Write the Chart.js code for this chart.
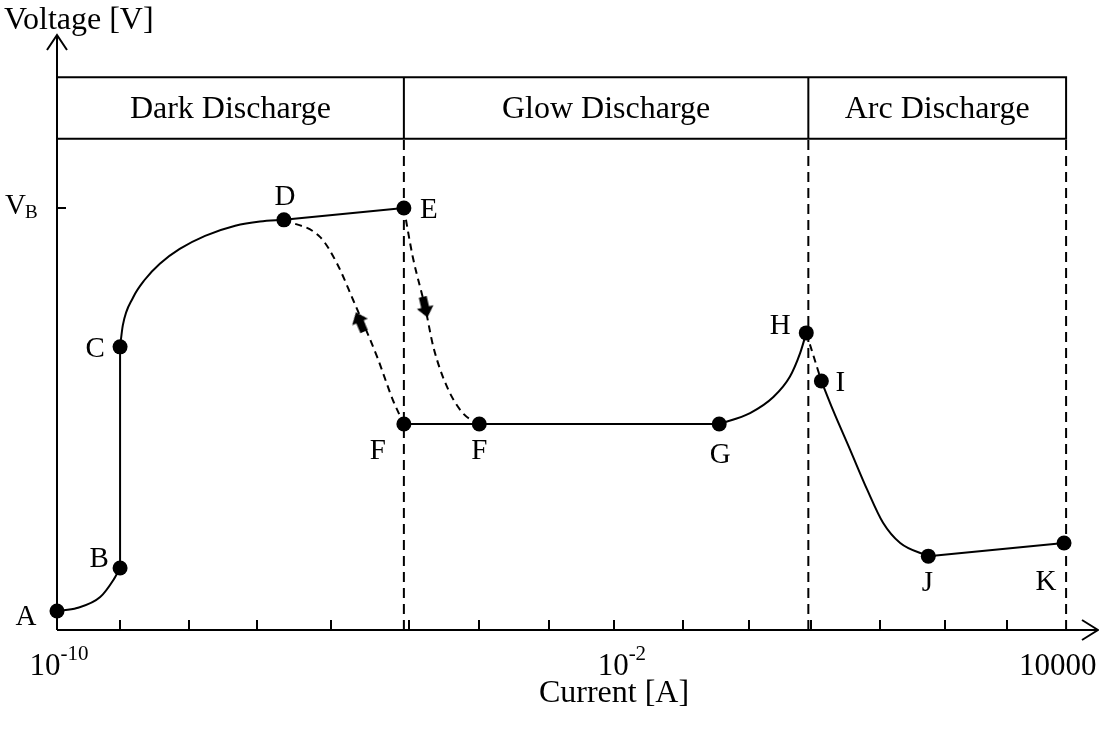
<!DOCTYPE html>
<html>
<head>
<meta charset="utf-8">
<script src="https://cdn.jsdelivr.net/npm/chart.js@4.4.0/dist/chart.umd.min.js"></script>
<style>
  html, body { margin: 0; padding: 0; background: #fff; overflow: hidden; }
  #wrap { width: 1099px; height: 735px; position: relative; }
</style>
</head>
<body>
<div id="wrap"><canvas id="chart"></canvas></div>
<script>
// Horizontal axis: schematic current position, one unit per decade step (0 = 10^-10 A)
const xTicks = [0.92, 1.93, 2.92, 4.00, 5.13, 6.16, 7.18, 8.13, 9.13, 10.09, 11.00, 12.01, 12.95, 13.86];
const xTickLabelAt = [0.03, 8.24, 14.60];
const xTickLabelBase = ['10', '10', '10000'];
const xTickLabelExp = ['-10', '-2', ''];

// Vertical axis: voltage relative to breakdown voltage V_B
const vBreakdown = 1.0;

// Discharge regimes
const regionEdges = [0, 5.06, 10.96, 14.72];
const regionNames = ['Dark Discharge', 'Glow Discharge', 'Arc Discharge'];
const regionBand = [1.164, 1.310];

// Labelled operating points
const pointNames = ['A', 'B', 'C', 'D', 'E', 'F', 'F', 'G', 'H', 'I', 'J', 'K'];
const pointX = [0, 0.92, 0.92, 3.31, 5.06, 5.06, 6.16, 9.66, 10.93, 11.15, 12.71, 14.69];
const pointV = [0.045, 0.147, 0.671, 0.972, 1.0, 0.488, 0.488, 0.488, 0.704, 0.590, 0.175, 0.206];

// Characteristic curve pieces [x, V/V_B]
const curveAB = [[0, 0.045], [0.29, 0.052], [0.63, 0.078], [0.82, 0.118], [0.92, 0.147]];
const curveBC = [[0.92, 0.147], [0.92, 0.671]];
const curveCD = [[0.92, 0.671], [0.96, 0.722], [1.11, 0.788], [1.28, 0.830], [1.50, 0.868], [1.79, 0.903], [2.16, 0.934], [2.60, 0.958], [2.96, 0.968], [3.31, 0.972]];
const curveDE = [[3.31, 0.972], [5.06, 1.0]];
const curveDF = [[3.31, 0.972], [3.84, 0.931], [4.08, 0.870], [4.32, 0.782], [4.67, 0.647], [4.90, 0.545], [5.06, 0.488]];
const curveEF = [[5.06, 1.0], [5.19, 0.884], [5.37, 0.765], [5.49, 0.671], [5.69, 0.576], [5.92, 0.514], [6.16, 0.488]];
const curveFG = [[5.06, 0.488], [6.16, 0.488], [9.66, 0.488]];
const curveGH = [[9.66, 0.488], [10.11, 0.514], [10.45, 0.552], [10.69, 0.600], [10.84, 0.656], [10.93, 0.704]];
const curveHI = [[10.93, 0.704], [11.15, 0.590]];
const curveIJ = [[11.15, 0.590], [11.32, 0.521], [11.57, 0.427], [11.82, 0.332], [12.05, 0.254], [12.30, 0.206], [12.71, 0.175]];
const curveJK = [[12.71, 0.175], [14.69, 0.206]];

// Direction arrows on the hysteresis branches
const arrowX = [4.42, 5.37];
const arrowV = [0.730, 0.765];
const arrowAngle = [-23, 167];

const SERIF = '"Liberation Serif", "Times New Roman", serif';
const INK = '#000';

const toXY = pts => pts.map(([x, y]) => ({ x, y }));

// Solid block arrow pointing up; rotated per point by Chart.js
function blockArrow() {
  const c = document.createElement('canvas');
  c.width = 17; c.height = 21;
  const g = c.getContext('2d');
  g.fillStyle = INK;
  g.beginPath();
  g.moveTo(8.5, 0); g.lineTo(17, 10.5); g.lineTo(12.5, 10.5); g.lineTo(12.5, 21);
  g.lineTo(4.5, 21); g.lineTo(4.5, 10.5); g.lineTo(0, 10.5); g.closePath();
  g.fill();
  return c;
}

function piece(pts, dashed, smooth) {
  return {
    type: 'line',
    data: toXY(pts),
    borderColor: INK,
    borderWidth: 2,
    borderDash: dashed ? [7, 5] : [],
    pointRadius: 0,
    fill: false,
    clip: false,
    tension: 0,
    cubicInterpolationMode: smooth ? 'monotone' : 'default',
    order: 2
  };
}

function boundary(xv) {
  return {
    type: 'line',
    data: [{ x: xv, y: 0 }, { x: xv, y: regionBand[0] }],
    borderColor: INK,
    borderWidth: 2,
    borderDash: [10, 6],
    pointRadius: 0,
    fill: false,
    clip: false,
    tension: 0,
    order: 3
  };
}

// Label offsets (pixels) for each operating point name
const labelOffset = [[-31, 14], [-21, -1], [-25, 10], [1, -15], [25, 10], [-26, 35], [0, 35], [1, 39], [-26, 1], [19, 10], [-1, 35], [-18, 47]];

const decor = {
  id: 'decor',
  beforeDatasetsDraw(chart) {
    const { ctx, scales: { x, y } } = chart;
    const ox = x.getPixelForValue(0), oy = y.getPixelForValue(0);
    const xEnd = x.right, yEnd = y.top;
    ctx.save();
    ctx.strokeStyle = INK;
    ctx.fillStyle = INK;
    ctx.lineWidth = 2;
    ctx.setLineDash([]);

    // header band with regime names
    const yt = y.getPixelForValue(regionBand[1]);
    const yb = y.getPixelForValue(regionBand[0]);
    const xr = x.getPixelForValue(regionEdges[regionEdges.length - 1]);
    ctx.beginPath();
    ctx.moveTo(ox, yt); ctx.lineTo(xr, yt); ctx.lineTo(xr, yb); ctx.lineTo(ox, yb);
    for (let i = 1; i < regionEdges.length - 1; i++) {
      const px = x.getPixelForValue(regionEdges[i]);
      ctx.moveTo(px, yt); ctx.lineTo(px, yb);
    }
    ctx.stroke();
    ctx.font = '32px ' + SERIF;
    ctx.textAlign = 'center';
    ctx.textBaseline = 'alphabetic';
    regionNames.forEach((name, i) => {
      const cx = (x.getPixelForValue(regionEdges[i]) + x.getPixelForValue(regionEdges[i + 1])) / 2;
      ctx.fillText(name, cx, (yt + yb) / 2 + 10);
    });

    // axes with open arrowheads
    ctx.beginPath();
    ctx.moveTo(ox, oy); ctx.lineTo(ox, yEnd);
    ctx.moveTo(ox - 10, yEnd + 15); ctx.lineTo(ox, yEnd); ctx.lineTo(ox + 10, yEnd + 15);
    ctx.moveTo(ox, oy); ctx.lineTo(xEnd - 1, oy);
    ctx.moveTo(xEnd - 17, oy - 10); ctx.lineTo(xEnd - 1, oy); ctx.lineTo(xEnd - 17, oy + 10);
    ctx.stroke();

    // inward tick marks on the current axis
    ctx.beginPath();
    xTicks.forEach(t => {
      const px = Math.round(x.getPixelForValue(t));
      ctx.moveTo(px, oy); ctx.lineTo(px, oy - 10);
    });
    // breakdown voltage tick
    const vb = y.getPixelForValue(vBreakdown);
    ctx.moveTo(ox, vb); ctx.lineTo(ox + 9, vb);
    ctx.stroke();

    // tick labels with superscript exponents
    ctx.textAlign = 'left';
    xTickLabelAt.forEach((v, i) => {
      const base = xTickLabelBase[i], exp = xTickLabelExp[i];
      ctx.font = '31px ' + SERIF;
      const wb = ctx.measureText(base).width;
      ctx.font = '21px ' + SERIF;
      const we = exp ? ctx.measureText(exp).width : 0;
      const start = x.getPixelForValue(v) - (wb + we) / 2;
      ctx.font = '31px ' + SERIF;
      ctx.fillText(base, start, oy + 45);
      if (exp) {
        ctx.font = '21px ' + SERIF;
        ctx.fillText(exp, start + wb, oy + 30);
      }
    });

    // V_B label
    ctx.font = '29px ' + SERIF;
    ctx.fillText('V', 5, vb + 6);
    const wv = ctx.measureText('V').width;
    ctx.font = '19px ' + SERIF;
    ctx.fillText('B', 5 + wv - 1, vb + 10);

    // axis titles
    ctx.font = '32px ' + SERIF;
    ctx.textAlign = 'left';
    ctx.fillText('Voltage [V]', 4, 29);
    ctx.textAlign = 'center';
    ctx.fillText('Current [A]', (ox + xEnd) / 2 + 36, oy + 72);
    ctx.restore();
  },
  afterDatasetsDraw(chart) {
    const { ctx, scales: { x, y } } = chart;
    ctx.save();
    ctx.fillStyle = INK;
    ctx.font = '29px ' + SERIF;
    ctx.textAlign = 'center';
    ctx.textBaseline = 'alphabetic';
    pointNames.forEach((name, i) => {
      const px = x.getPixelForValue(pointX[i]);
      const py = y.getPixelForValue(pointV[i]);
      ctx.fillText(name, px + labelOffset[i][0], py + labelOffset[i][1]);
    });
    ctx.restore();
  }
};

const arrowImage = blockArrow();

const datasets = [
  {
    type: 'line',
    data: pointX.map((xv, i) => ({ x: xv, y: pointV[i] })),
    showLine: false,
    pointRadius: 7.5,
    pointHoverRadius: 7.5,
    pointBackgroundColor: INK,
    pointBorderWidth: 0,
    clip: false,
    order: 0
  },
  {
    type: 'line',
    data: arrowX.map((xv, i) => ({ x: xv, y: arrowV[i] })),
    showLine: false,
    pointStyle: arrowImage,
    pointRadius: 10,
    pointRotation: arrowAngle,
    clip: false,
    order: 0
  },
  piece(curveAB, false, true),
  piece(curveBC, false, false),
  piece(curveCD, false, true),
  piece(curveDE, false, false),
  piece(curveDF, true, true),
  piece(curveEF, true, true),
  piece(curveFG, false, false),
  piece(curveGH, false, true),
  piece(curveHI, true, false),
  piece(curveIJ, false, true),
  piece(curveJK, false, false),
  ...regionEdges.slice(1).map(boundary)
];

new Chart(document.getElementById('chart'), {
  data: { datasets },
  options: {
    responsive: true,
    maintainAspectRatio: false,
    animation: false,
    events: [],
    layout: { autoPadding: false, padding: { left: 57, right: 0, top: 35, bottom: 105 } },
    plugins: { legend: { display: false }, tooltip: { enabled: false } },
    scales: {
      x: { type: 'linear', min: 0, max: 15.2, display: false },
      y: { type: 'linear', min: 0, max: 1.41, display: false }
    }
  },
  plugins: [decor]
});
</script>
</body>
</html>
